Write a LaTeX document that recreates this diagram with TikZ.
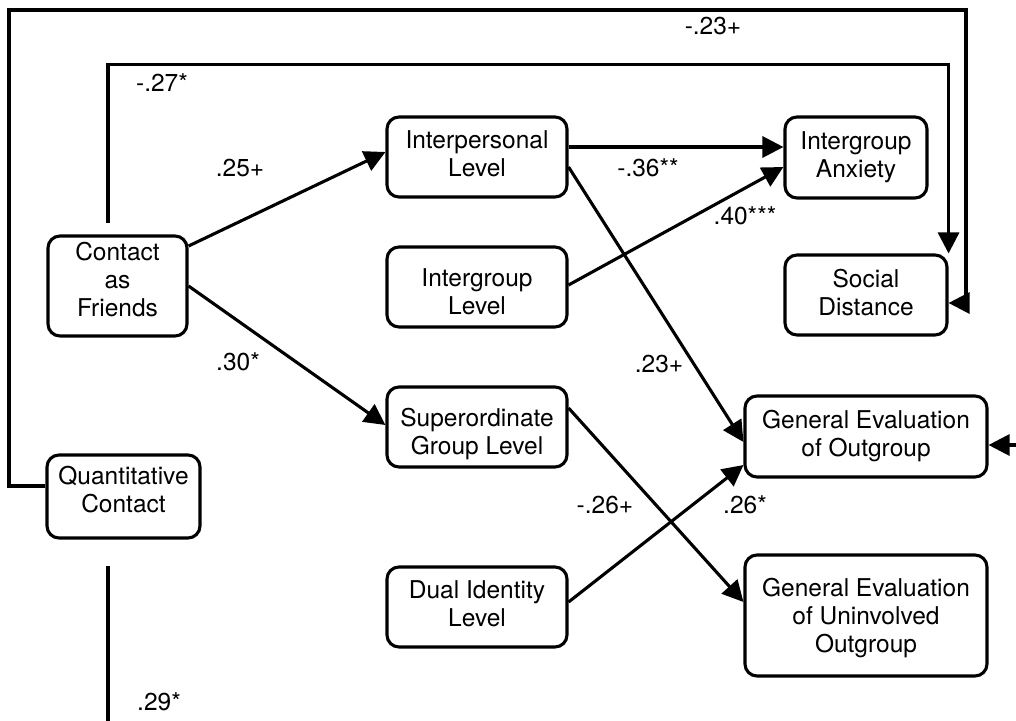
\documentclass[tikz,border=0pt]{standalone}
\usepackage{fontspec}
\setmainfont{TeX Gyre Heros}
\usetikzlibrary{arrows.meta}
\begin{document}
\begin{tikzpicture}[x=1pt,y=-1pt,
  txt/.style={align=center, inner sep=0pt, font=\fontsize{24.5}{28}\selectfont},
  box/.style={draw, line width=3.1pt, rounded corners=12pt, inner sep=0pt,
    minimum width=#1},
  tx/.style 2 args={label={[txt,yshift=#1]center:#2}},
  arr/.style={line width=3.1pt, -{Triangle[length=21pt,width=21pt]}},
  link/.style={line width=3.1pt},
  coef/.style={txt}]
\useasboundingbox (0,0) rectangle (1016,720);

% variables
\node[box=139pt, minimum height=100pt, tx={6pt}{Contact\\as\\Friends}] (cf) at (117.5,286) {};
\node[box=153pt, minimum height=83pt, tx={7pt}{Quantitative\\Contact}] (qc) at (123.5,496.5) {};
\node[box=180pt, minimum height=80pt, tx={3pt}{Interpersonal\\Level}] (ip) at (477,157) {};
\node[box=180pt, minimum height=80pt, tx={-5pt}{Intergroup\\Level}] (ig) at (477,287) {};
\node[box=180pt, minimum height=80pt, tx={-7pt}{Superordinate\\Group Level}] (sg) at (477,427) {};
\node[box=180pt, minimum height=80pt, tx={3pt}{Dual Identity\\Level}] (di) at (477,607) {};
\node[box=142pt, minimum height=81pt, tx={0pt}{Intergroup\\Anxiety}] (ia) at (856,157.5) {};
\node[box=162pt, minimum height=80pt, tx={2pt}{Social\\Distance}] (sd) at (866,295) {};
\node[box=242pt, minimum height=81pt, tx={0pt}{General Evaluation\\of Outgroup}] (ge) at (866,436.5) {};
\node[box=242pt, minimum height=121pt, tx={-3pt}{General Evaluation\\of Uninvolved\\Outgroup}] (gu) at (866,615.5) {};

% paths
\draw[arr] ([yshift=40pt]cf.east) -- ([yshift=5pt]ip.west);
\draw[arr] (cf.east) -- ([yshift=2pt]sg.west);
\draw[arr] ([yshift=10pt]ip.east) -- ([yshift=10.5pt]ia.west);
\draw[arr] ([yshift=2pt]ig.east) -- ([yshift=-9.5pt]ia.west);
\draw[arr] ([yshift=-10pt]ip.east) -- ([yshift=-5.5pt]ge.west);
\draw[arr] ([yshift=19pt]sg.east) -- ([yshift=13.5pt]gu.west);
\draw[arr] ([yshift=5pt]di.east) -- ([yshift=-28.5pt]ge.west);

% long paths around the top
\draw[arr] ([xshift=-9.5pt,yshift=11pt]cf.north) -- ++(0,-159) -| (sd.north east);
\coordinate (tl) at (9,10);
\coordinate (tr) at (966,10);
\draw[arr] ([yshift=10.5pt]qc.west) -| (tl) -- (tr) |- ([yshift=-8pt]sd.east);

% paths leaving the frame
\coordinate (b1) at (108,566);
\coordinate (b2) at (108,722);
\draw[link] (b1) -- (b2);
\coordinate (r1) at (1018,445);
\draw[arr] (r1) -- ([yshift=-8.5pt]ge.east);

% coefficients
\node[coef] (c1) at (240,168) {.25+};
\node[coef] (c2) at (238,362) {.30*};
\node[coef] (c3) at (162,83) {-.27*};
\node[coef] (c4) at (713,26) {-.23+};
\node[coef] (c5) at (648,168) {-.36**};
\node[coef] (c6) at (745,216) {.40***};
\node[coef] (c7) at (659,364) {.23+};
\node[coef] (c8) at (605,505) {-.26+};
\node[coef] (c9) at (745,505) {.26*};
\node[coef] (c10) at (159,702) {.29*};
\end{tikzpicture}
\end{document}
